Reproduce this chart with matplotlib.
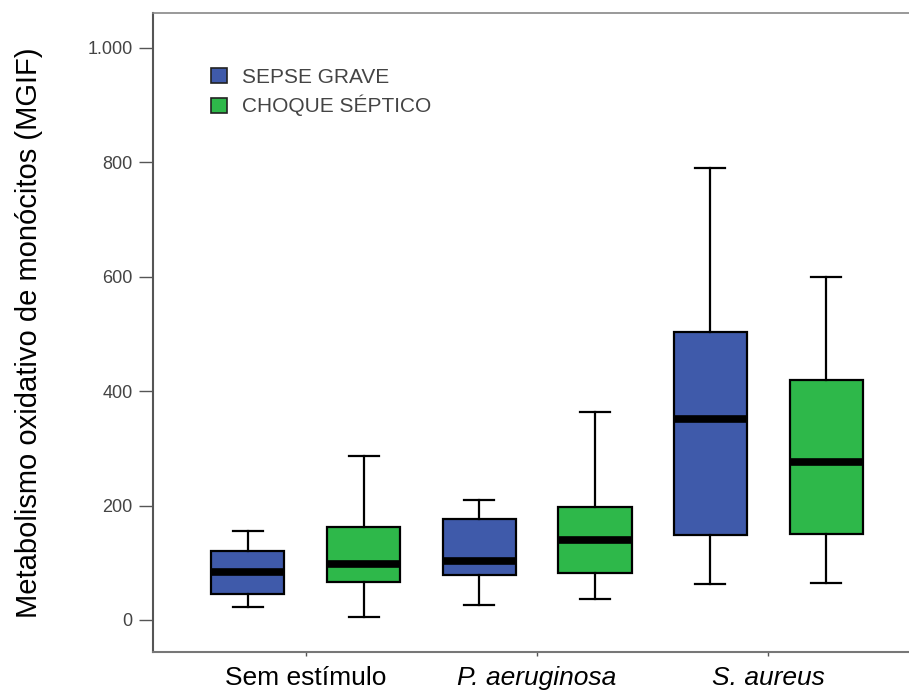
import matplotlib
matplotlib.use('Agg')
import matplotlib.pyplot as plt
from matplotlib.patches import Patch
from matplotlib.ticker import FuncFormatter

plt.rcParams['font.family'] = ['Liberation Sans', 'DejaVu Sans']

groups = ['Sem estímulo', 'P. aeruginosa', 'S. aureus']
series = ['SEPSE GRAVE', 'CHOQUE SÉPTICO']
colors = ['#3F5AAA', '#2EB84A']

# whisker low, q1, median, q3, whisker high
sepse_lo = [22, 26, 62]
sepse_q1 = [45, 78, 148]
sepse_med = [83, 103, 351]
sepse_q3 = [121, 177, 503]
sepse_hi = [156, 210, 790]

choque_lo = [6, 36, 65]
choque_q1 = [66, 82, 151]
choque_med = [97, 139, 276]
choque_q3 = [162, 197, 420]
choque_hi = [287, 364, 600]

yticks = [0, 200, 400, 600, 800, 1000]

fig = plt.figure(figsize=(9.09, 6.91), dpi=100)
ax = fig.add_axes([153/909, 1-652/691, 1-153/909, (652-13)/691])

off = 0.251
wid = 0.316
allstats = [
    (sepse_lo, sepse_q1, sepse_med, sepse_q3, sepse_hi),
    (choque_lo, choque_q1, choque_med, choque_q3, choque_hi),
]
for k, (lo, q1, med, q3, hi) in enumerate(allstats):
    stats = []
    for i in range(len(groups)):
        stats.append({'whislo': lo[i], 'q1': q1[i], 'med': med[i],
                      'q3': q3[i], 'whishi': hi[i], 'fliers': []})
    pos = [i + (off if k else -off) for i in range(len(groups))]
    ax.bxp(stats, positions=pos, widths=wid, capwidths=0.13,
           patch_artist=True, showfliers=False, manage_ticks=False,
           boxprops=dict(facecolor=colors[k], edgecolor='black', linewidth=1.6),
           medianprops=dict(color='black', linewidth=5.5, solid_capstyle='butt'),
           whiskerprops=dict(color='black', linewidth=1.6),
           capprops=dict(color='black', linewidth=1.6))

ax.set_xlim(-0.662, 2.61)
ax.set_ylim(-56, 1061)
ax.set_yticks(yticks)
ax.yaxis.set_major_formatter(FuncFormatter(lambda v, p: '{:,.0f}'.format(v).replace(',', '.')))
ax.tick_params(axis='y', length=10, width=1.0, color='#555555', pad=4.5,
               labelsize=13, labelcolor='#444444')
ax.set_xticks(range(len(groups)))
ax.set_xticklabels(groups, fontsize=19)
for lab in ax.get_xticklabels()[1:]:
    lab.set_style('italic')
ax.tick_params(axis='x', length=3, width=1.0, color='#555555', pad=7)

ax.spines['right'].set_visible(False)
ax.spines['left'].set_color('#555555')
ax.spines['left'].set_linewidth(1.5)
ax.spines['bottom'].set_color('#777777')
ax.spines['bottom'].set_linewidth(1.5)
ax.spines['top'].set_color('#888888')
ax.spines['top'].set_linewidth(1.2)

ax.set_ylabel('Metabolismo oxidativo de monócitos (MGIF)', fontsize=21, labelpad=32)

handles = [Patch(facecolor=c, edgecolor='#222222', linewidth=1.2) for c in colors]
leg = ax.legend(handles, series, loc='upper left',
                bbox_to_anchor=(211/909, 1-68/691), bbox_transform=fig.transFigure,
                frameon=False, fontsize=15, handlelength=0.75, handleheight=0.75,
                handletextpad=0.75, labelspacing=0.38, borderpad=0, borderaxespad=0)
for t in leg.get_texts():
    t.set_color('#444444')

fig.savefig('out.png', dpi=100)
